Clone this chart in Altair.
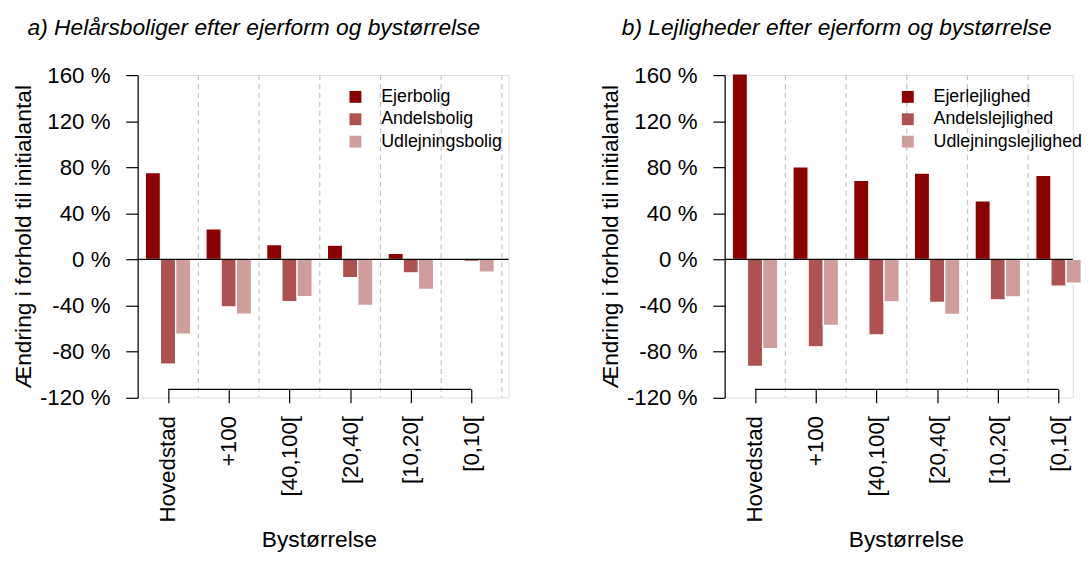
import altair as alt
import pandas as pd

# ---------------- data ----------------
groups = ["Hovedstad", "+100", "[40,100[", "[20,40[", "[10,20[", "[0,10["]

a_title = "a) Helårsboliger efter ejerform og bystørrelse"
a_series = ["Ejerbolig", "Andelsbolig", "Udlejningsbolig"]
a_ejer = [75.4, 26.4, 12.9, 12.3, 5.2, 0.0]
a_andel = [-91.1, -41.3, -36.7, -15.8, -11.7, -1.7]
a_udl = [-65.0, -47.6, -32.4, -40.1, -26.1, -11.2]

b_title = "b) Lejligheder efter ejerform og bystørrelse"
b_series = ["Ejerlejlighed", "Andelslejlighed", "Udlejningslejlighed"]
b_ejer = [161.0, 80.4, 68.6, 74.9, 50.7, 72.9]
b_andel = [-93.0, -76.0, -65.7, -37.5, -35.2, -23.3]
b_udl = [-77.5, -57.3, -36.9, -47.8, -32.6, -20.7]

y_ticks = [-120, -80, -40, 0, 40, 80, 120, 160]
x_title = "Bystørrelse"
y_title = "Ændring i forhold til initialantal"
colors = ["#8B0000", "#AE5151", "#D09D9D"]

# ---------------- style ----------------
FONT = "Liberation Sans"
UNIT = 15.33          # px per bar width
H = 325.7             # plot height (160 .. -120)
XAXIS_UP = 8.3        # x axis line raised above plot bottom
GAP = 1               # empty bar slot between groups (R barplot space)
LAB = 22.5
TIT = 23
LEG = 18


def panel(title, series, vals, width, legend_x, title_dx):
    k = len(series)
    per = k + GAP
    rows = []
    for si, (s, v) in enumerate(zip(series, vals)):
        for gi, (g, x) in enumerate(zip(groups, v)):
            left = GAP + per * gi + si
            rows.append({"gruppe": g, "serie": s, "vaerdi": x,
                         "x0": left, "x1": left + 1})
    df = pd.DataFrame(rows)
    x_lo = GAP / 2
    x_hi = x_lo + width / UNIT
    centers = [GAP + per * gi + k / 2 for gi in range(len(groups))]
    seps = [GAP + per * gi + k + GAP / 2 for gi in range(len(groups))]
    seps = [s for s in seps if s <= x_hi]          # plot is cropped at the right
    cdf = pd.DataFrame({"c": centers})
    sdf = pd.DataFrame({"s": seps})
    zdf = pd.DataFrame({"nul": [0]})

    xscale = alt.Scale(domain=[x_lo, x_hi], nice=False, zero=False)
    yscale = alt.Scale(domain=[y_ticks[0], y_ticks[-1]], nice=False, zero=False)

    names = "[" + ",".join("'" + g + "'" for g in groups) + "]"
    label_expr = f"{names}[round((datum.value - {centers[0]}) / {per})]"

    xaxis = alt.Axis(
        title=x_title, values=centers, labelExpr=label_expr,
        offset=-XAXIS_UP, domain=False, ticks=True,
        tickSize=13.5, tickColor="black", tickWidth=1.2,
        labelAngle=-90, labelAlign="right", labelBaseline="middle",
        labelPadding=13, labelFontSize=LAB, labelFont=FONT, labelColor="black",
        labelFlush=False, labelOverlap=False,
        titleFontSize=TIT, titleFont=FONT, titleFontWeight="normal",
        titleColor="black", titlePadding=7, titleX=183, grid=False,
    )
    yaxis = alt.Axis(
        title=y_title, values=y_ticks, labelExpr="datum.value + ' %'",
        tickSize=12, tickColor="black", tickWidth=1.2,
        domainColor="black", domainWidth=1.2,
        labelPadding=16, labelFontSize=LAB, labelFont=FONT, labelColor="black",
        titleFontSize=TIT, titleFont=FONT, titleFontWeight="normal",
        titleColor="black", titlePadding=4, grid=False,
    )

    dashed = alt.Chart(sdf).mark_rule(
        strokeDash=[5, 4], color="#C4C4C4", strokeWidth=1.2
    ).encode(
        x=alt.X("s:Q", scale=xscale, axis=xaxis),
        y=alt.datum(y_ticks[-1], scale=yscale, axis=yaxis),
        y2=alt.datum(y_ticks[0]),
    )

    bars = alt.Chart(df).mark_bar(stroke="white", strokeWidth=1.3).encode(
        x=alt.X("x0:Q", scale=xscale, axis=xaxis),
        x2="x1:Q",
        y=alt.Y("vaerdi:Q", scale=yscale, axis=yaxis),
        y2=alt.datum(0),
        color=alt.Color(
            "serie:N", sort=series,
            scale=alt.Scale(domain=series, range=colors),
            legend=alt.Legend(
                orient="none", legendX=legend_x, legendY=13, title=None,
                direction="vertical", labelFontSize=LEG, labelFont=FONT,
                labelColor="black", symbolType="square", symbolSize=144,
                symbolStrokeWidth=0, symbolOpacity=1, padding=0,
                rowPadding=4.6, labelOffset=17, symbolOffset=0,
            ),
        ),
        tooltip=["gruppe:N", "serie:N", "vaerdi:Q"],
    )

    zero = alt.Chart(zdf).mark_rule(color="black", strokeWidth=1.3).encode(
        y=alt.Y("nul:Q", scale=yscale, axis=yaxis)
    )

    xline = alt.Chart(cdf).mark_line(color="black", strokeWidth=1.2).encode(
        x=alt.X("c:Q", scale=xscale, axis=xaxis),
        y=alt.value(H - XAXIS_UP),
    )

    return alt.layer(dashed, bars, zero, xline).properties(
        width=width, height=H,
        title=alt.TitleParams(
            text=title, anchor="start", frame="group", dx=title_dx,
            fontSize=TIT, font=FONT, fontStyle="italic", fontWeight="normal",
            color="black", offset=25,
        ),
    )


left = panel(a_title, a_series, [a_ejer, a_andel, a_udl],
             width=374.7, legend_x=211, title_dx=-111.3)
right = panel(b_title, b_series, [b_ejer, b_andel, b_udl],
              width=351.7, legend_x=176, title_dx=-104)

chart = (
    alt.hconcat(left, right, spacing=90)
    .resolve_scale(color="independent", x="independent", y="independent")
    .resolve_legend(color="independent")
    .properties(padding={"left": 4, "top": 5, "right": 0, "bottom": 0})
    .configure_view(stroke=None)
    .configure(font=FONT)
)

chart.save("out.html", embed_options={"renderer": "svg", "actions": False})
